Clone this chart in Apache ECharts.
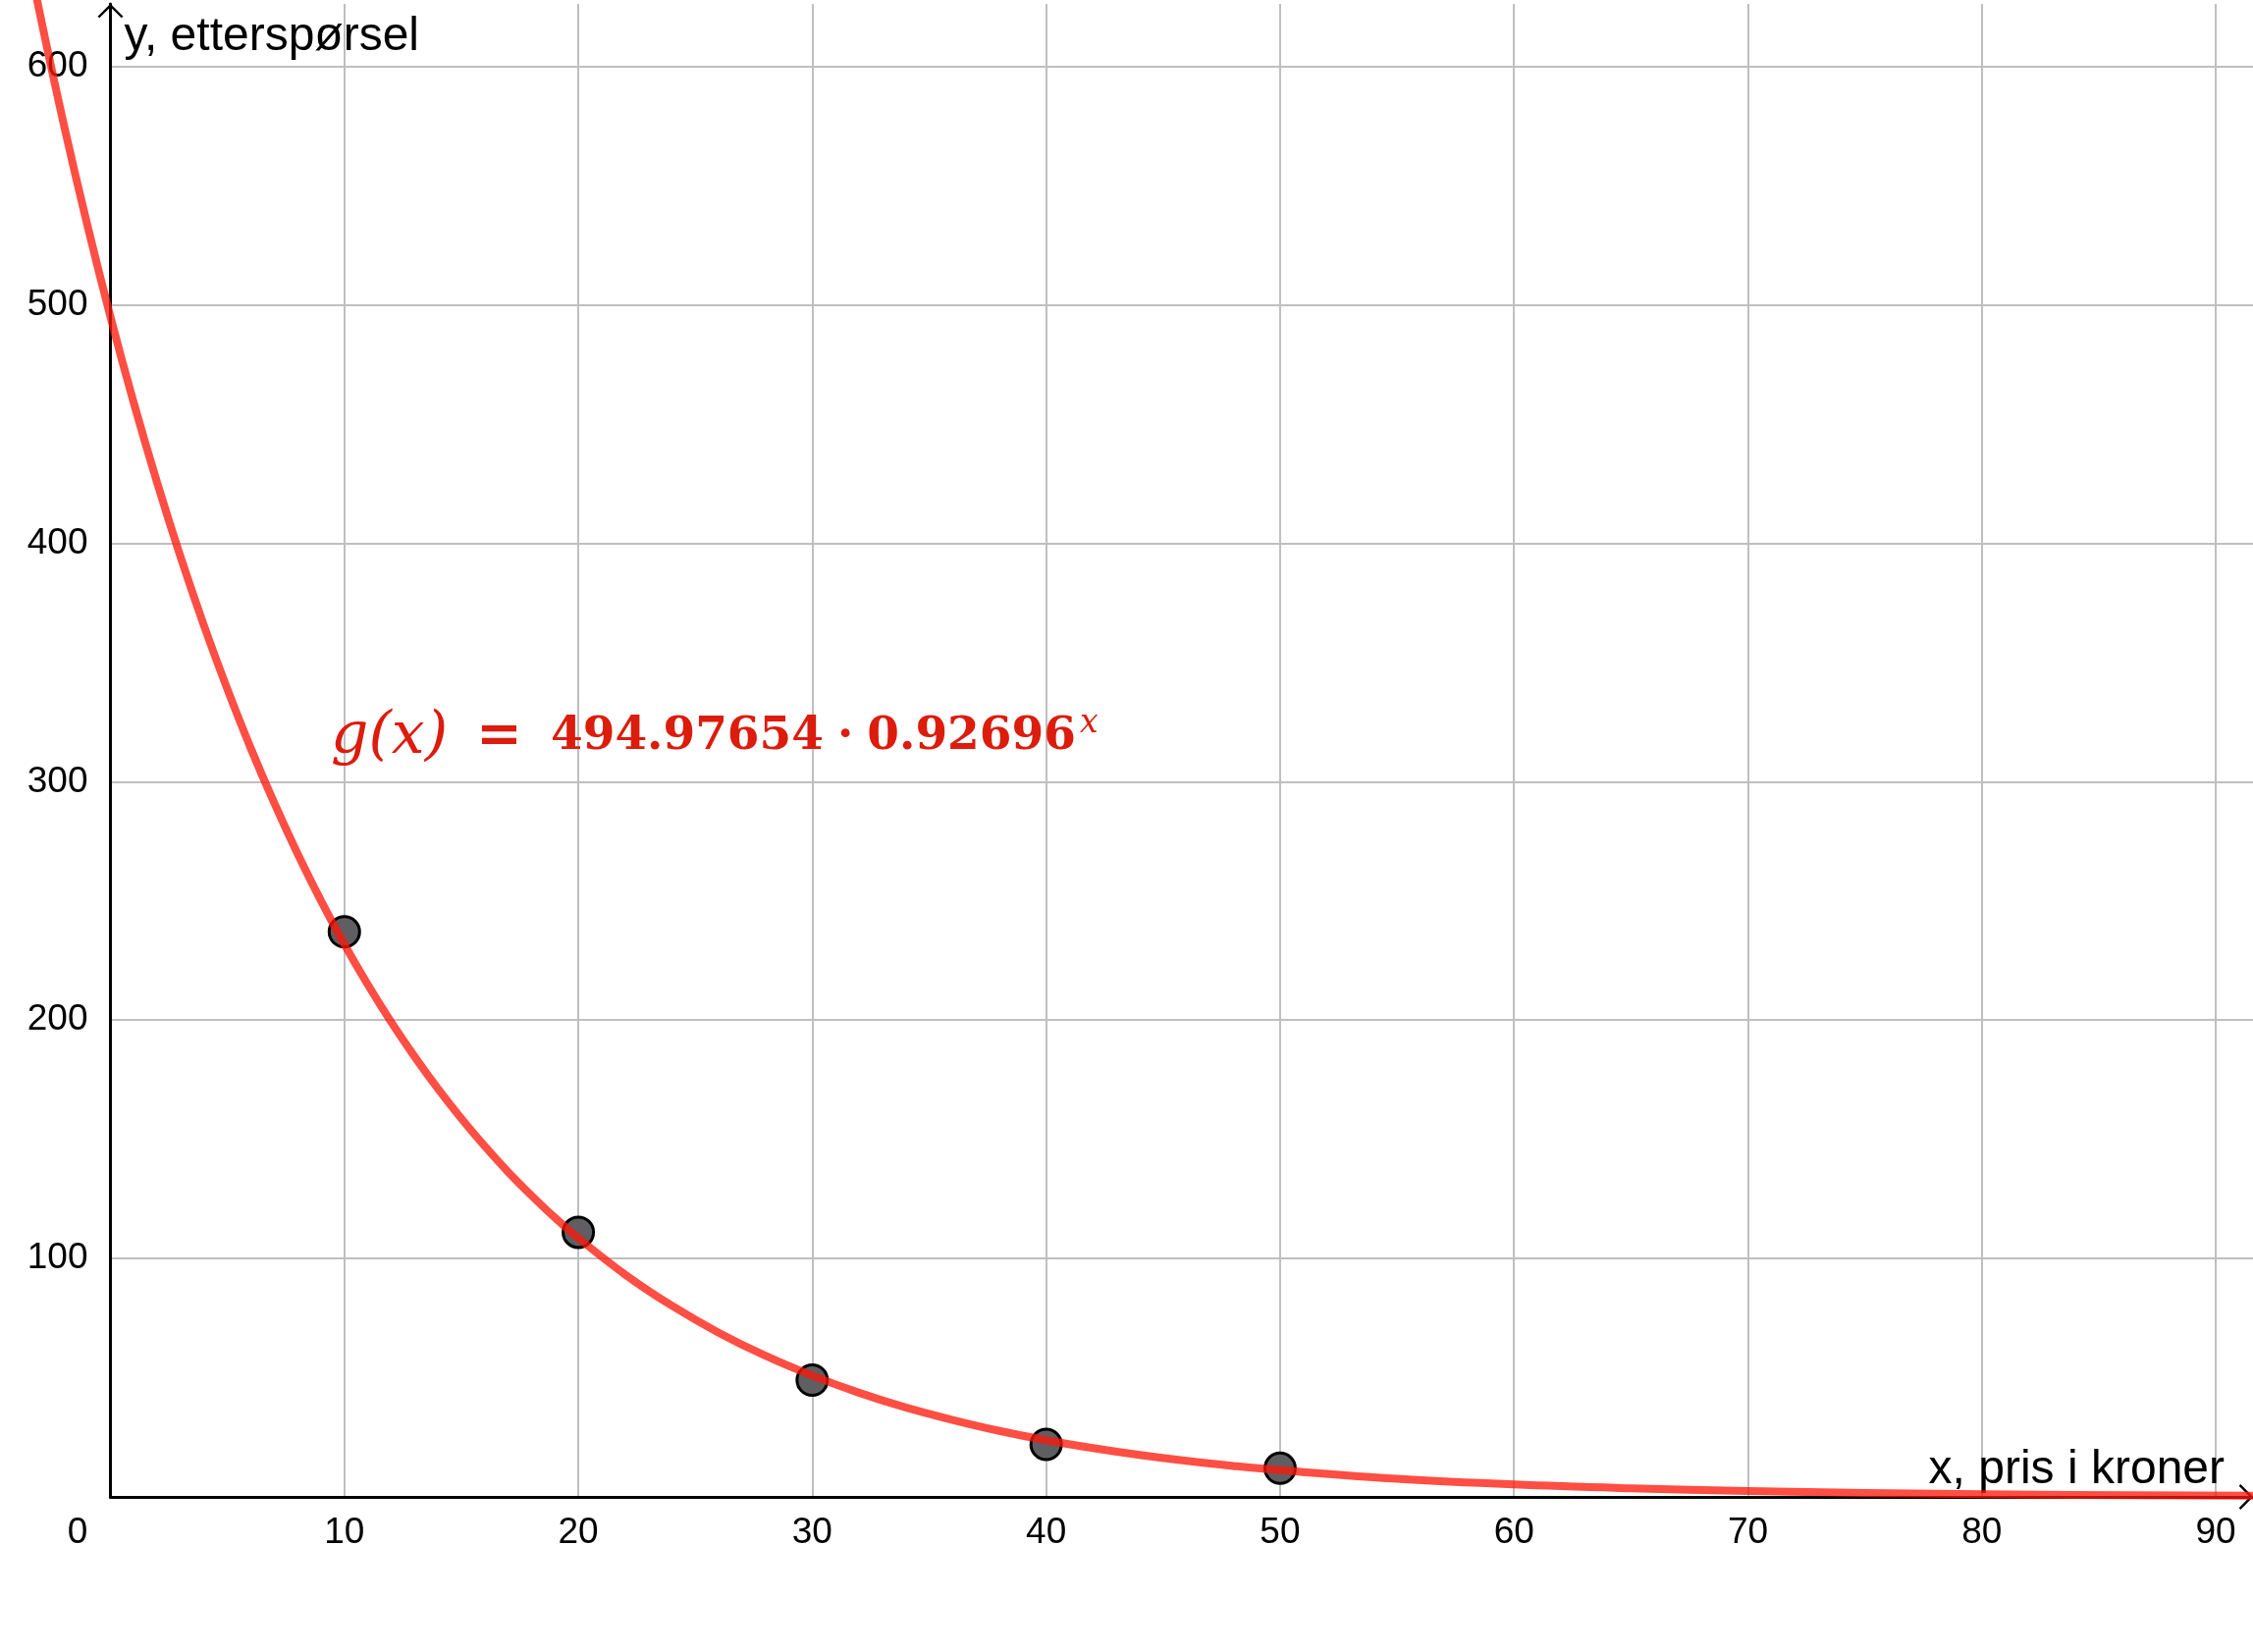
<!DOCTYPE html>
<html>
<head>
<meta charset="utf-8">
<title>g(x) etterspørsel</title>
<script src="https://cdn.jsdelivr.net/npm/echarts@6/dist/echarts.min.js"></script>
<style>
  html, body { margin: 0; padding: 0; background: #ffffff; }
  #chart { width: 2295px; height: 1683px; }
</style>
</head>
<body>
<div id="chart"></div>
<script>
// målte punkter (pris, etterspørsel)
const priceX = [10, 20, 30, 40, 50];
const demandY = [237, 111, 49, 22, 12];

// regresjonskurven
const curveX = [-3.9, -3, -2, -1, 0, 1, 2, 3, 4, 5, 6, 7, 8, 9, 10, 11, 12, 13, 14, 15, 16, 17, 18, 19, 20,
  22, 24, 26, 28, 30, 32, 34, 36, 38, 40, 42, 44, 46, 48, 50, 55, 60, 65, 70, 80, 91.5];
const curveY = [665.3, 621.4, 576.0, 534.0, 495.0, 458.8, 425.3, 394.2, 365.4, 338.8, 314.0, 291.1, 269.8, 250.1, 231.8,
  214.9, 199.2, 184.7, 171.2, 158.7, 147.1, 136.3, 126.4, 117.1, 108.6,
  93.3, 80.2, 68.9, 59.2, 50.9, 43.7, 37.5, 32.3, 27.7, 23.8, 20.5, 17.6, 15.1, 13.0, 11.2, 7.6, 5.2, 3.6, 2.45, 1.14, 0.48];

const xTitle = 'x, pris i kroner';
const yTitle = 'y, etterspørsel';
const formulaA = '494.97654';
const formulaB = '0.92696';

const points = priceX.map((x, i) => [x, demandY[i]]);
const curve = curveX.map((x, i) => [x, curveY[i]]);

const arrowPath = 'path://M0,12 L13,-1 L26,12 L24.2,13.6 L13,2.6 L1.8,13.6 Z';
const labelFont = 'Liberation Sans, Arial, Helvetica, sans-serif';
const gridColor = '#bfbfbf';
const red = '#dc1c0c';

// piksler per enhet, brukt for den skjulte kurve-aksen
const pxX = 23.83;
const pxY = 2.4288;
const pad = 100;

const chart = echarts.init(document.getElementById('chart'), null, { renderer: 'canvas' });

const option = {
  animation: false,
  backgroundColor: '#ffffff',
  grid: [
    {
      left: 112.5,
      right: 0,
      top: 4,
      bottom: 158,
      containLabel: false,
      outerBoundsMode: 'none'
    },
    {
      // samme skala, men større, så kurven kan gå til venstre for y-aksen
      left: -pad,
      right: 0,
      top: -pad,
      bottom: 158,
      containLabel: false,
      outerBoundsMode: 'none'
    }
  ],
  xAxis: [
    {
      type: 'value',
      gridIndex: 0,
      min: 0,
      max: 91.59,
      interval: 10,
      name: xTitle,
      nameLocation: 'end',
      nameGap: -29,
      nameMoveOverlap: false,
      nameTextStyle: {
        fontFamily: labelFont,
        fontSize: 48,
        color: '#000',
        align: 'right',
        verticalAlign: 'bottom',
        padding: [0, 0, 3, 0]
      },
      axisLine: {
        show: true,
        onZero: false,
        symbol: ['none', arrowPath],
        symbolSize: [26, 15],
        symbolOffset: [0, -7],
        lineStyle: { color: '#000', width: 3 }
      },
      axisTick: { show: false },
      axisLabel: {
        margin: 18,
        showMaxLabel: false,
        fontFamily: labelFont,
        fontSize: 37,
        color: '#000',
        formatter: v => (v === 0 ? '{o|0}' : String(v)),
        rich: {
          o: { fontFamily: labelFont, fontSize: 37, color: '#000', padding: [0, 67, 0, 0] }
        }
      },
      splitLine: {
        show: true,
        showMinLine: false,
        showMaxLine: false,
        lineStyle: { color: gridColor, width: 2 }
      }
    },
    {
      type: 'value',
      gridIndex: 1,
      show: false,
      min: -(112.5 + pad) / pxX,
      max: 91.59,
      splitLine: { show: false }
    }
  ],
  yAxis: [
    {
      type: 'value',
      gridIndex: 0,
      min: 0,
      max: 626.2,
      interval: 100,
      name: yTitle,
      nameLocation: 'end',
      nameGap: -10,
      nameMoveOverlap: false,
      nameTextStyle: {
        fontFamily: labelFont,
        fontSize: 48,
        color: '#000',
        align: 'left',
        verticalAlign: 'top',
        padding: [0, 0, 0, 14]
      },
      axisLine: {
        show: true,
        onZero: false,
        symbol: ['none', arrowPath],
        symbolSize: [26, 15],
        symbolOffset: [0, -7],
        lineStyle: { color: '#000', width: 3 }
      },
      axisTick: { show: false },
      axisLabel: {
        margin: 23,
        showMaxLabel: false,
        fontFamily: labelFont,
        fontSize: 37,
        color: '#000',
        formatter: v => (v === 0 ? '' : String(v))
      },
      splitLine: {
        show: true,
        showMinLine: false,
        showMaxLine: false,
        lineStyle: { color: gridColor, width: 2 }
      }
    },
    {
      type: 'value',
      gridIndex: 1,
      show: false,
      min: 0,
      max: (1525 + pad) / pxY,
      splitLine: { show: false }
    }
  ],
  graphic: [
    {
      type: 'text',
      left: 337,
      top: 720,
      z: 10,
      style: {
        text: '{g|g(x)}{eq|=}{n|' + formulaA + '}{d|·}{n|' + formulaB + '}{s|x}',
        fill: red,
        rich: {
          g: { fontFamily: 'DejaVu Serif', fontStyle: 'italic', fontSize: 60, lineHeight: 62, fill: red },
          eq: { fontFamily: 'DejaVu Serif', fontWeight: 'bold', fontSize: 56, lineHeight: 62, padding: [0, 29, 0, 29], fill: red },
          n: { fontFamily: 'DejaVu Serif', fontWeight: 'bold', fontSize: 47, lineHeight: 62, fill: red },
          d: { fontFamily: 'DejaVu Serif', fontWeight: 'bold', fontSize: 47, lineHeight: 62, padding: [0, 14, 0, 14], fill: red },
          s: { fontFamily: 'DejaVu Serif', fontStyle: 'italic', fontSize: 33, lineHeight: 33, verticalAlign: 'top', padding: [1, 0, 0, 4], fill: red }
        }
      }
    }
  ],
  series: [
    {
      name: 'data',
      type: 'scatter',
      xAxisIndex: 0,
      yAxisIndex: 0,
      data: points,
      symbol: 'circle',
      symbolSize: 31,
      z: 2,
      itemStyle: {
        color: '#5f5e63',
        borderColor: '#000',
        borderWidth: 3,
        opacity: 1
      }
    },
    {
      name: 'g',
      type: 'line',
      xAxisIndex: 1,
      yAxisIndex: 1,
      data: curve,
      showSymbol: false,
      smooth: 0.4,
      clip: false,
      z: 3,
      lineStyle: {
        color: 'rgba(255, 22, 8, 0.76)',
        width: 8,
        cap: 'round',
        join: 'round'
      }
    }
  ]
};

chart.setOption(option);
</script>
</body>
</html>
